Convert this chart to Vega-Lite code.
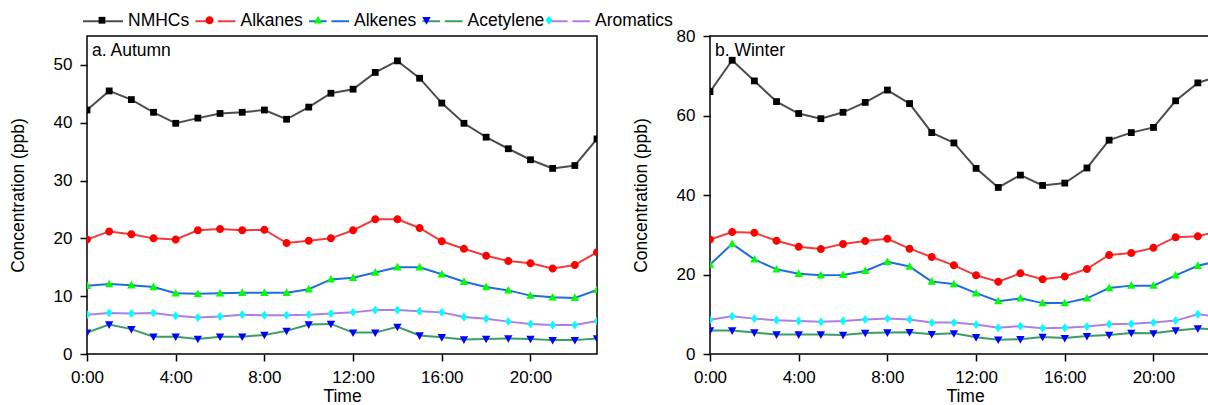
{
"$schema": "https://vega.github.io/schema/vega-lite/v6.json",
"padding": {"left": 8, "top": -1, "right": 0, "bottom": 0},
"bounds": "flush",
"spacing": 113,
"config": {
  "font": "Liberation Sans",
  "view": {"stroke": "black", "strokeWidth": 1.5},
  "axis": {"labelFont": "Liberation Sans", "labelFontSize": 17, "labelColor": "black", "titleFont": "Liberation Sans", "titleFontSize": 17.5, "titleFontWeight": "normal", "titleColor": "black", "tickColor": "black", "tickWidth": 1.5, "tickSize": 7, "domain": false, "grid": false, "labelOverlap": false, "labelFlush": false},
  "legend": {"labelFont": "Liberation Sans", "labelFontSize": 17.5, "labelColor": "black"}
},
"datasets": {
"d": [
{"season":"Autumn","species":"NMHCs","hour":0,"ppb":42.2},{"season":"Autumn","species":"NMHCs","hour":1,"ppb":45.5},{"season":"Autumn","species":"NMHCs","hour":2,"ppb":44.0},{"season":"Autumn","species":"NMHCs","hour":3,"ppb":41.8},{"season":"Autumn","species":"NMHCs","hour":4,"ppb":39.9},{"season":"Autumn","species":"NMHCs","hour":5,"ppb":40.8},{"season":"Autumn","species":"NMHCs","hour":6,"ppb":41.6},{"season":"Autumn","species":"NMHCs","hour":7,"ppb":41.8},{"season":"Autumn","species":"NMHCs","hour":8,"ppb":42.2},{"season":"Autumn","species":"NMHCs","hour":9,"ppb":40.6},{"season":"Autumn","species":"NMHCs","hour":10,"ppb":42.7},{"season":"Autumn","species":"NMHCs","hour":11,"ppb":45.1},{"season":"Autumn","species":"NMHCs","hour":12,"ppb":45.8},{"season":"Autumn","species":"NMHCs","hour":13,"ppb":48.7},{"season":"Autumn","species":"NMHCs","hour":14,"ppb":50.7},{"season":"Autumn","species":"NMHCs","hour":15,"ppb":47.7},{"season":"Autumn","species":"NMHCs","hour":16,"ppb":43.4},{"season":"Autumn","species":"NMHCs","hour":17,"ppb":39.9},{"season":"Autumn","species":"NMHCs","hour":18,"ppb":37.5},{"season":"Autumn","species":"NMHCs","hour":19,"ppb":35.5},{"season":"Autumn","species":"NMHCs","hour":20,"ppb":33.6},{"season":"Autumn","species":"NMHCs","hour":21,"ppb":32.1},{"season":"Autumn","species":"NMHCs","hour":22,"ppb":32.6},{"season":"Autumn","species":"NMHCs","hour":23,"ppb":37.2},
{"season":"Autumn","species":"Alkanes","hour":0,"ppb":19.8},{"season":"Autumn","species":"Alkanes","hour":1,"ppb":21.2},{"season":"Autumn","species":"Alkanes","hour":2,"ppb":20.7},{"season":"Autumn","species":"Alkanes","hour":3,"ppb":20.0},{"season":"Autumn","species":"Alkanes","hour":4,"ppb":19.8},{"season":"Autumn","species":"Alkanes","hour":5,"ppb":21.4},{"season":"Autumn","species":"Alkanes","hour":6,"ppb":21.6},{"season":"Autumn","species":"Alkanes","hour":7,"ppb":21.4},{"season":"Autumn","species":"Alkanes","hour":8,"ppb":21.5},{"season":"Autumn","species":"Alkanes","hour":9,"ppb":19.2},{"season":"Autumn","species":"Alkanes","hour":10,"ppb":19.6},{"season":"Autumn","species":"Alkanes","hour":11,"ppb":20.0},{"season":"Autumn","species":"Alkanes","hour":12,"ppb":21.4},{"season":"Autumn","species":"Alkanes","hour":13,"ppb":23.3},{"season":"Autumn","species":"Alkanes","hour":14,"ppb":23.3},{"season":"Autumn","species":"Alkanes","hour":15,"ppb":21.8},{"season":"Autumn","species":"Alkanes","hour":16,"ppb":19.5},{"season":"Autumn","species":"Alkanes","hour":17,"ppb":18.2},{"season":"Autumn","species":"Alkanes","hour":18,"ppb":17.0},{"season":"Autumn","species":"Alkanes","hour":19,"ppb":16.1},{"season":"Autumn","species":"Alkanes","hour":20,"ppb":15.7},{"season":"Autumn","species":"Alkanes","hour":21,"ppb":14.8},{"season":"Autumn","species":"Alkanes","hour":22,"ppb":15.4},{"season":"Autumn","species":"Alkanes","hour":23,"ppb":17.6},
{"season":"Autumn","species":"Alkenes","hour":0,"ppb":11.8},{"season":"Autumn","species":"Alkenes","hour":1,"ppb":12.1},{"season":"Autumn","species":"Alkenes","hour":2,"ppb":11.9},{"season":"Autumn","species":"Alkenes","hour":3,"ppb":11.6},{"season":"Autumn","species":"Alkenes","hour":4,"ppb":10.5},{"season":"Autumn","species":"Alkenes","hour":5,"ppb":10.4},{"season":"Autumn","species":"Alkenes","hour":6,"ppb":10.5},{"season":"Autumn","species":"Alkenes","hour":7,"ppb":10.6},{"season":"Autumn","species":"Alkenes","hour":8,"ppb":10.6},{"season":"Autumn","species":"Alkenes","hour":9,"ppb":10.6},{"season":"Autumn","species":"Alkenes","hour":10,"ppb":11.2},{"season":"Autumn","species":"Alkenes","hour":11,"ppb":12.9},{"season":"Autumn","species":"Alkenes","hour":12,"ppb":13.2},{"season":"Autumn","species":"Alkenes","hour":13,"ppb":14.1},{"season":"Autumn","species":"Alkenes","hour":14,"ppb":15.0},{"season":"Autumn","species":"Alkenes","hour":15,"ppb":15.0},{"season":"Autumn","species":"Alkenes","hour":16,"ppb":13.8},{"season":"Autumn","species":"Alkenes","hour":17,"ppb":12.5},{"season":"Autumn","species":"Alkenes","hour":18,"ppb":11.6},{"season":"Autumn","species":"Alkenes","hour":19,"ppb":11.0},{"season":"Autumn","species":"Alkenes","hour":20,"ppb":10.1},{"season":"Autumn","species":"Alkenes","hour":21,"ppb":9.8},{"season":"Autumn","species":"Alkenes","hour":22,"ppb":9.7},{"season":"Autumn","species":"Alkenes","hour":23,"ppb":11.1},
{"season":"Autumn","species":"Acetylene","hour":0,"ppb":3.7},{"season":"Autumn","species":"Acetylene","hour":1,"ppb":5.1},{"season":"Autumn","species":"Acetylene","hour":2,"ppb":4.3},{"season":"Autumn","species":"Acetylene","hour":3,"ppb":3.0},{"season":"Autumn","species":"Acetylene","hour":4,"ppb":3.0},{"season":"Autumn","species":"Acetylene","hour":5,"ppb":2.6},{"season":"Autumn","species":"Acetylene","hour":6,"ppb":3.0},{"season":"Autumn","species":"Acetylene","hour":7,"ppb":3.0},{"season":"Autumn","species":"Acetylene","hour":8,"ppb":3.3},{"season":"Autumn","species":"Acetylene","hour":9,"ppb":4.0},{"season":"Autumn","species":"Acetylene","hour":10,"ppb":5.1},{"season":"Autumn","species":"Acetylene","hour":11,"ppb":5.2},{"season":"Autumn","species":"Acetylene","hour":12,"ppb":3.7},{"season":"Autumn","species":"Acetylene","hour":13,"ppb":3.7},{"season":"Autumn","species":"Acetylene","hour":14,"ppb":4.7},{"season":"Autumn","species":"Acetylene","hour":15,"ppb":3.2},{"season":"Autumn","species":"Acetylene","hour":16,"ppb":2.9},{"season":"Autumn","species":"Acetylene","hour":17,"ppb":2.5},{"season":"Autumn","species":"Acetylene","hour":18,"ppb":2.6},{"season":"Autumn","species":"Acetylene","hour":19,"ppb":2.7},{"season":"Autumn","species":"Acetylene","hour":20,"ppb":2.6},{"season":"Autumn","species":"Acetylene","hour":21,"ppb":2.4},{"season":"Autumn","species":"Acetylene","hour":22,"ppb":2.4},{"season":"Autumn","species":"Acetylene","hour":23,"ppb":2.7},
{"season":"Autumn","species":"Aromatics","hour":0,"ppb":6.8},{"season":"Autumn","species":"Aromatics","hour":1,"ppb":7.1},{"season":"Autumn","species":"Aromatics","hour":2,"ppb":7.0},{"season":"Autumn","species":"Aromatics","hour":3,"ppb":7.1},{"season":"Autumn","species":"Aromatics","hour":4,"ppb":6.6},{"season":"Autumn","species":"Aromatics","hour":5,"ppb":6.3},{"season":"Autumn","species":"Aromatics","hour":6,"ppb":6.5},{"season":"Autumn","species":"Aromatics","hour":7,"ppb":6.8},{"season":"Autumn","species":"Aromatics","hour":8,"ppb":6.7},{"season":"Autumn","species":"Aromatics","hour":9,"ppb":6.7},{"season":"Autumn","species":"Aromatics","hour":10,"ppb":6.8},{"season":"Autumn","species":"Aromatics","hour":11,"ppb":7.0},{"season":"Autumn","species":"Aromatics","hour":12,"ppb":7.2},{"season":"Autumn","species":"Aromatics","hour":13,"ppb":7.6},{"season":"Autumn","species":"Aromatics","hour":14,"ppb":7.6},{"season":"Autumn","species":"Aromatics","hour":15,"ppb":7.4},{"season":"Autumn","species":"Aromatics","hour":16,"ppb":7.2},{"season":"Autumn","species":"Aromatics","hour":17,"ppb":6.4},{"season":"Autumn","species":"Aromatics","hour":18,"ppb":6.1},{"season":"Autumn","species":"Aromatics","hour":19,"ppb":5.6},{"season":"Autumn","species":"Aromatics","hour":20,"ppb":5.2},{"season":"Autumn","species":"Aromatics","hour":21,"ppb":5.0},{"season":"Autumn","species":"Aromatics","hour":22,"ppb":5.0},{"season":"Autumn","species":"Aromatics","hour":23,"ppb":5.7},
{"season":"Winter","species":"NMHCs","hour":0,"ppb":66.0},{"season":"Winter","species":"NMHCs","hour":1,"ppb":73.9},{"season":"Winter","species":"NMHCs","hour":2,"ppb":68.7},{"season":"Winter","species":"NMHCs","hour":3,"ppb":63.5},{"season":"Winter","species":"NMHCs","hour":4,"ppb":60.5},{"season":"Winter","species":"NMHCs","hour":5,"ppb":59.2},{"season":"Winter","species":"NMHCs","hour":6,"ppb":60.8},{"season":"Winter","species":"NMHCs","hour":7,"ppb":63.3},{"season":"Winter","species":"NMHCs","hour":8,"ppb":66.4},{"season":"Winter","species":"NMHCs","hour":9,"ppb":63.0},{"season":"Winter","species":"NMHCs","hour":10,"ppb":55.7},{"season":"Winter","species":"NMHCs","hour":11,"ppb":53.1},{"season":"Winter","species":"NMHCs","hour":12,"ppb":46.7},{"season":"Winter","species":"NMHCs","hour":13,"ppb":41.9},{"season":"Winter","species":"NMHCs","hour":14,"ppb":45.0},{"season":"Winter","species":"NMHCs","hour":15,"ppb":42.4},{"season":"Winter","species":"NMHCs","hour":16,"ppb":43.0},{"season":"Winter","species":"NMHCs","hour":17,"ppb":46.8},{"season":"Winter","species":"NMHCs","hour":18,"ppb":53.8},{"season":"Winter","species":"NMHCs","hour":19,"ppb":55.7},{"season":"Winter","species":"NMHCs","hour":20,"ppb":57.0},{"season":"Winter","species":"NMHCs","hour":21,"ppb":63.7},{"season":"Winter","species":"NMHCs","hour":22,"ppb":68.2},{"season":"Winter","species":"NMHCs","hour":23,"ppb":70.0},
{"season":"Winter","species":"Alkanes","hour":0,"ppb":28.8},{"season":"Winter","species":"Alkanes","hour":1,"ppb":30.7},{"season":"Winter","species":"Alkanes","hour":2,"ppb":30.5},{"season":"Winter","species":"Alkanes","hour":3,"ppb":28.5},{"season":"Winter","species":"Alkanes","hour":4,"ppb":27.0},{"season":"Winter","species":"Alkanes","hour":5,"ppb":26.4},{"season":"Winter","species":"Alkanes","hour":6,"ppb":27.7},{"season":"Winter","species":"Alkanes","hour":7,"ppb":28.4},{"season":"Winter","species":"Alkanes","hour":8,"ppb":29.0},{"season":"Winter","species":"Alkanes","hour":9,"ppb":26.5},{"season":"Winter","species":"Alkanes","hour":10,"ppb":24.4},{"season":"Winter","species":"Alkanes","hour":11,"ppb":22.3},{"season":"Winter","species":"Alkanes","hour":12,"ppb":19.8},{"season":"Winter","species":"Alkanes","hour":13,"ppb":18.2},{"season":"Winter","species":"Alkanes","hour":14,"ppb":20.3},{"season":"Winter","species":"Alkanes","hour":15,"ppb":18.8},{"season":"Winter","species":"Alkanes","hour":16,"ppb":19.5},{"season":"Winter","species":"Alkanes","hour":17,"ppb":21.4},{"season":"Winter","species":"Alkanes","hour":18,"ppb":24.9},{"season":"Winter","species":"Alkanes","hour":19,"ppb":25.4},{"season":"Winter","species":"Alkanes","hour":20,"ppb":26.7},{"season":"Winter","species":"Alkanes","hour":21,"ppb":29.4},{"season":"Winter","species":"Alkanes","hour":22,"ppb":29.6},{"season":"Winter","species":"Alkanes","hour":23,"ppb":31.0},
{"season":"Winter","species":"Alkenes","hour":0,"ppb":22.5},{"season":"Winter","species":"Alkenes","hour":1,"ppb":27.7},{"season":"Winter","species":"Alkenes","hour":2,"ppb":23.8},{"season":"Winter","species":"Alkenes","hour":3,"ppb":21.3},{"season":"Winter","species":"Alkenes","hour":4,"ppb":20.2},{"season":"Winter","species":"Alkenes","hour":5,"ppb":19.8},{"season":"Winter","species":"Alkenes","hour":6,"ppb":19.9},{"season":"Winter","species":"Alkenes","hour":7,"ppb":20.9},{"season":"Winter","species":"Alkenes","hour":8,"ppb":23.2},{"season":"Winter","species":"Alkenes","hour":9,"ppb":22.0},{"season":"Winter","species":"Alkenes","hour":10,"ppb":18.2},{"season":"Winter","species":"Alkenes","hour":11,"ppb":17.6},{"season":"Winter","species":"Alkenes","hour":12,"ppb":15.3},{"season":"Winter","species":"Alkenes","hour":13,"ppb":13.3},{"season":"Winter","species":"Alkenes","hour":14,"ppb":14.0},{"season":"Winter","species":"Alkenes","hour":15,"ppb":12.8},{"season":"Winter","species":"Alkenes","hour":16,"ppb":12.8},{"season":"Winter","species":"Alkenes","hour":17,"ppb":14.0},{"season":"Winter","species":"Alkenes","hour":18,"ppb":16.6},{"season":"Winter","species":"Alkenes","hour":19,"ppb":17.2},{"season":"Winter","species":"Alkenes","hour":20,"ppb":17.2},{"season":"Winter","species":"Alkenes","hour":21,"ppb":19.8},{"season":"Winter","species":"Alkenes","hour":22,"ppb":22.2},{"season":"Winter","species":"Alkenes","hour":23,"ppb":23.5},
{"season":"Winter","species":"Acetylene","hour":0,"ppb":5.9},{"season":"Winter","species":"Acetylene","hour":1,"ppb":5.9},{"season":"Winter","species":"Acetylene","hour":2,"ppb":5.4},{"season":"Winter","species":"Acetylene","hour":3,"ppb":4.9},{"season":"Winter","species":"Acetylene","hour":4,"ppb":4.9},{"season":"Winter","species":"Acetylene","hour":5,"ppb":4.9},{"season":"Winter","species":"Acetylene","hour":6,"ppb":4.8},{"season":"Winter","species":"Acetylene","hour":7,"ppb":5.3},{"season":"Winter","species":"Acetylene","hour":8,"ppb":5.4},{"season":"Winter","species":"Acetylene","hour":9,"ppb":5.5},{"season":"Winter","species":"Acetylene","hour":10,"ppb":5.0},{"season":"Winter","species":"Acetylene","hour":11,"ppb":5.2},{"season":"Winter","species":"Acetylene","hour":12,"ppb":4.2},{"season":"Winter","species":"Acetylene","hour":13,"ppb":3.6},{"season":"Winter","species":"Acetylene","hour":14,"ppb":3.7},{"season":"Winter","species":"Acetylene","hour":15,"ppb":4.3},{"season":"Winter","species":"Acetylene","hour":16,"ppb":4.0},{"season":"Winter","species":"Acetylene","hour":17,"ppb":4.5},{"season":"Winter","species":"Acetylene","hour":18,"ppb":4.8},{"season":"Winter","species":"Acetylene","hour":19,"ppb":5.3},{"season":"Winter","species":"Acetylene","hour":20,"ppb":5.2},{"season":"Winter","species":"Acetylene","hour":21,"ppb":5.9},{"season":"Winter","species":"Acetylene","hour":22,"ppb":6.4},{"season":"Winter","species":"Acetylene","hour":23,"ppb":6.2},
{"season":"Winter","species":"Aromatics","hour":0,"ppb":8.6},{"season":"Winter","species":"Aromatics","hour":1,"ppb":9.5},{"season":"Winter","species":"Aromatics","hour":2,"ppb":8.9},{"season":"Winter","species":"Aromatics","hour":3,"ppb":8.5},{"season":"Winter","species":"Aromatics","hour":4,"ppb":8.3},{"season":"Winter","species":"Aromatics","hour":5,"ppb":8.1},{"season":"Winter","species":"Aromatics","hour":6,"ppb":8.3},{"season":"Winter","species":"Aromatics","hour":7,"ppb":8.7},{"season":"Winter","species":"Aromatics","hour":8,"ppb":8.9},{"season":"Winter","species":"Aromatics","hour":9,"ppb":8.7},{"season":"Winter","species":"Aromatics","hour":10,"ppb":7.9},{"season":"Winter","species":"Aromatics","hour":11,"ppb":7.9},{"season":"Winter","species":"Aromatics","hour":12,"ppb":7.4},{"season":"Winter","species":"Aromatics","hour":13,"ppb":6.6},{"season":"Winter","species":"Aromatics","hour":14,"ppb":7.0},{"season":"Winter","species":"Aromatics","hour":15,"ppb":6.5},{"season":"Winter","species":"Aromatics","hour":16,"ppb":6.6},{"season":"Winter","species":"Aromatics","hour":17,"ppb":6.9},{"season":"Winter","species":"Aromatics","hour":18,"ppb":7.5},{"season":"Winter","species":"Aromatics","hour":19,"ppb":7.6},{"season":"Winter","species":"Aromatics","hour":20,"ppb":7.9},{"season":"Winter","species":"Aromatics","hour":21,"ppb":8.4},{"season":"Winter","species":"Aromatics","hour":22,"ppb":10.0},{"season":"Winter","species":"Aromatics","hour":23,"ppb":9.3}
]
},
"hconcat": [
{
  "width": 510, "height": 318,
  "layer": [
    {
      "data": {"name": "d"},
      "transform": [{"filter": "datum.season === 'Autumn'"}],
      "mark": {"type": "line", "strokeWidth": 2, "clip": true},
      "encoding": {
        "x": {"field": "hour", "type": "quantitative", "scale": {"domain": [0, 23], "nice": false}, "axis": {"values": [0, 4, 8, 12, 16, 20], "labelExpr": "datum.value + ':00'", "title": "Time", "labelPadding": 8, "titlePadding": 2}},
        "y": {"field": "ppb", "type": "quantitative", "scale": {"domain": [0, 55], "nice": false}, "axis": {"values": [0,5,10,15,20,25,30,35,40,45,50,55], "labelExpr": "datum.value % 10 === 0 ? datum.label : ''", "title": "Concentration (ppb)", "labelPadding": 8, "titlePadding": 26, "encode": {"ticks": {"x2": {"value": {"expr": "datum.value % 10 === 0 ? -7 : -4"}}}}}},
        "stroke": {"field": "species", "type": "nominal", "sort": ["NMHCs", "Alkanes", "Alkenes", "Acetylene", "Aromatics"], "scale": {"range": ["#4d4d4d", "#f23c3c", "#1e6fdc", "#3a9e64", "#b07ee2"]},
          "legend": {"orient": "none", "legendX": -5, "legendY": -36, "direction": "horizontal", "title": null, "symbolType": "M-1,0H-0.12M0.12,0H1", "symbolSize": 1600, "symbolStrokeWidth": 2, "labelOffset": 4, "columnPadding": 1.5, "padding": 0}}
      }
    },
    {
      "data": {"name": "d"},
      "transform": [{"filter": "datum.season === 'Autumn'"}],
      "mark": {"type": "point", "filled": true, "opacity": 1, "strokeWidth": 0, "size": 1600, "clip": true},
      "encoding": {
        "x": {"field": "hour", "type": "quantitative"},
        "y": {"field": "ppb", "type": "quantitative"},
        "fill": {"field": "species", "type": "nominal", "scale": {"domain": ["NMHCs", "Alkanes", "Alkenes", "Acetylene", "Aromatics"], "range": ["#000000", "#ff0000", "#00ff00", "#0000ff", "#00ffff"]},
          "legend": {"orient": "none", "legendX": -5, "legendY": -36, "direction": "horizontal", "title": null, "symbolSize": 1600, "symbolStrokeWidth": 0, "labelOffset": 4, "columnPadding": 1.5, "padding": 0, "labelOpacity": 0}},
        "shape": {"field": "species", "type": "nominal", "scale": {"domain": ["NMHCs", "Alkanes", "Alkenes", "Acetylene", "Aromatics"], "range": ["M-0.17,-0.17H0.17V0.17H-0.17Z", "M0.2,0A0.2,0.2 0 1,1 -0.2,0A0.2,0.2 0 1,1 0.2,0Z", "M0,-0.22L0.21,0.16H-0.21Z", "M0,0.22L0.21,-0.16H-0.21Z", "M0,-0.22L0.17,0L0,0.22L-0.17,0Z"]},
          "legend": {"orient": "none", "legendX": -5, "legendY": -36, "direction": "horizontal", "title": null, "symbolSize": 1600, "symbolStrokeWidth": 0, "labelOffset": 4, "columnPadding": 1.5, "padding": 0, "labelOpacity": 0}}
      }
    },
    {
      "data": {"values": [{"label": "a. Autumn"}]},
      "mark": {"type": "text", "align": "left", "baseline": "top", "dx": 5, "dy": 6, "fontSize": 17.5, "font": "Liberation Sans", "color": "black"},
      "encoding": {
        "x": {"datum": 0, "type": "quantitative"},
        "y": {"datum": 55, "type": "quantitative"},
        "text": {"field": "label"}
      }
    }
  ]
},
{
  "width": 510, "height": 318,
  "layer": [
    {
      "data": {"name": "d"},
      "transform": [{"filter": "datum.season === 'Winter'"}],
      "mark": {"type": "line", "strokeWidth": 2, "clip": true},
      "encoding": {
        "x": {"field": "hour", "type": "quantitative", "scale": {"domain": [0, 23], "nice": false}, "axis": {"values": [0, 4, 8, 12, 16, 20], "labelExpr": "datum.value + ':00'", "title": "Time", "labelPadding": 8, "titlePadding": 2}},
        "y": {"field": "ppb", "type": "quantitative", "scale": {"domain": [0, 80], "nice": false}, "axis": {"values": [0,5,10,15,20,25,30,35,40,45,50,55,60,65,70,75,80], "labelExpr": "datum.value % 10 === 0 ? datum.label : ''", "title": "Concentration (ppb)", "labelPadding": 8, "titlePadding": 26, "encode": {"ticks": {"x2": {"value": {"expr": "datum.value % 10 === 0 ? -7 : -4"}}}}}},
        "stroke": {"field": "species", "type": "nominal", "scale": {"domain": ["NMHCs", "Alkanes", "Alkenes", "Acetylene", "Aromatics"], "range": ["#4d4d4d", "#f23c3c", "#1e6fdc", "#3a9e64", "#b07ee2"]}, "legend": null}
      }
    },
    {
      "data": {"name": "d"},
      "transform": [{"filter": "datum.season === 'Winter'"}],
      "mark": {"type": "point", "filled": true, "opacity": 1, "strokeWidth": 0, "size": 1600, "clip": true},
      "encoding": {
        "x": {"field": "hour", "type": "quantitative"},
        "y": {"field": "ppb", "type": "quantitative"},
        "fill": {"field": "species", "type": "nominal", "scale": {"domain": ["NMHCs", "Alkanes", "Alkenes", "Acetylene", "Aromatics"], "range": ["#000000", "#ff0000", "#00ff00", "#0000ff", "#00ffff"]}, "legend": null},
        "shape": {"field": "species", "type": "nominal", "scale": {"domain": ["NMHCs", "Alkanes", "Alkenes", "Acetylene", "Aromatics"], "range": ["M-0.17,-0.17H0.17V0.17H-0.17Z", "M0.2,0A0.2,0.2 0 1,1 -0.2,0A0.2,0.2 0 1,1 0.2,0Z", "M0,-0.22L0.21,0.16H-0.21Z", "M0,0.22L0.21,-0.16H-0.21Z", "M0,-0.22L0.17,0L0,0.22L-0.17,0Z"]}, "legend": null}
      }
    },
    {
      "data": {"values": [{"label": "b. Winter"}]},
      "mark": {"type": "text", "align": "left", "baseline": "top", "dx": 5, "dy": 6, "fontSize": 17.5, "font": "Liberation Sans", "color": "black"},
      "encoding": {
        "x": {"datum": 0, "type": "quantitative"},
        "y": {"datum": 80, "type": "quantitative"},
        "text": {"field": "label"}
      }
    }
  ]
}
],
"resolve": {
  "scale": {"x": "independent", "y": "independent", "stroke": "independent", "fill": "independent", "shape": "independent"},
  "legend": {"stroke": "independent", "fill": "independent", "shape": "independent"}
}
}
